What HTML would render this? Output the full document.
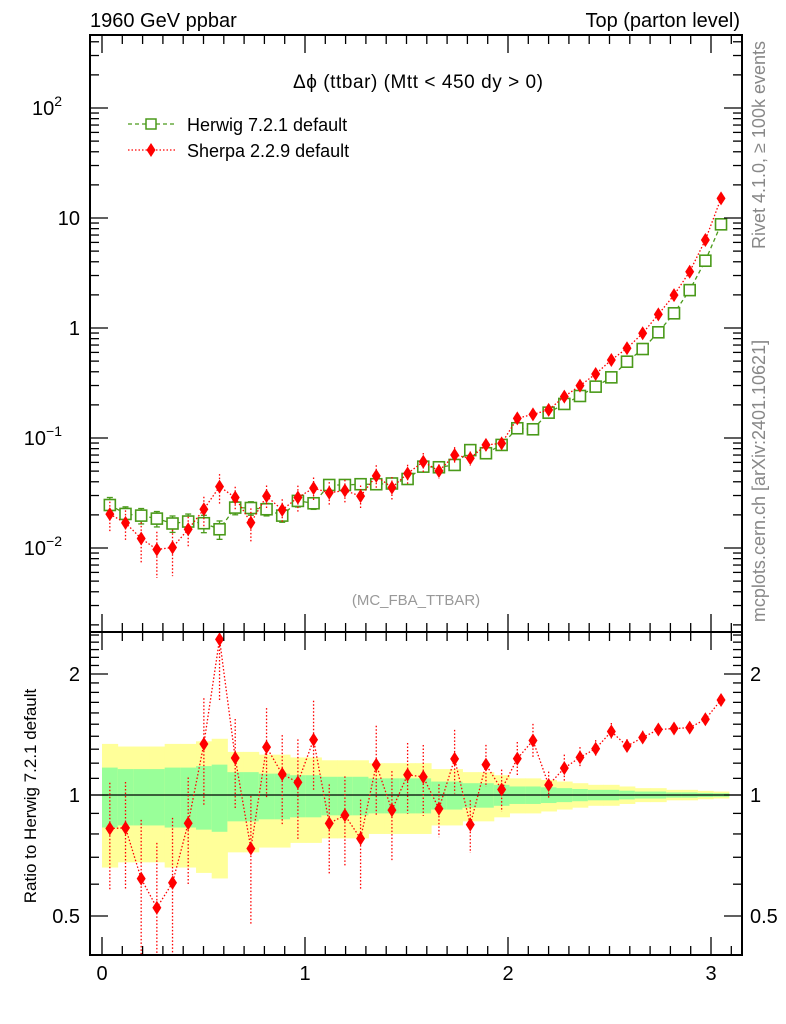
<!DOCTYPE html>
<html><head><meta charset="utf-8"><style>
body{margin:0;background:#fff;}
svg{display:block;font-family:"Liberation Sans",sans-serif;}
</style></head><body>
<svg id="c" width="786" height="1024" xmlns="http://www.w3.org/2000/svg"></svg>
<script>
const nBins = 40;
const xMax = 3.088;
const herwig = [0.0246,0.0204,0.0197,0.0185,0.0167,0.0174,0.0168,0.0148,0.0233,0.0231,0.0225,0.0197,0.0268,0.0255,0.0374,0.0374,0.038,0.038,0.0386,0.0424,0.0549,0.0542,0.0569,0.0776,0.0727,0.0865,0.1226,0.12,0.170,0.204,0.241,0.293,0.356,0.494,0.644,0.914,1.36,2.21,4.09,8.76];
const sherpa = [0.0203,0.0169,0.0122,0.0097,0.0101,0.0148,0.0225,0.0361,0.0288,0.0170,0.0296,0.0222,0.0288,0.035,0.0318,0.0333,0.0296,0.0452,0.0354,0.0476,0.0609,0.0501,0.070,0.0655,0.0865,0.0893,0.151,0.164,0.180,0.238,0.299,0.382,0.512,0.654,0.895,1.33,1.99,3.25,6.31,15.1];
const sherpaErr = [0.3,0.3,0.4,0.45,0.45,0.3,0.3,0.3,0.25,0.35,0.25,0.25,0.28,0.25,0.25,0.25,0.25,0.25,0.25,0.2,0.2,0.15,0.18,0.15,0.12,0.12,0.1,0.1,0.08,0.08,0.06,0.05,0.05,0.04,0.04,0.03,0.03,0.03,0.02,0.02];
const herwigErr = [0.17,0.16,0.16,0.16,0.17,0.17,0.18,0.19,0.14,0.14,0.13,0.13,0.12,0.12,0.11,0.11,0.11,0.1,0.1,0.1,0.1,0.08,0.08,0.07,0.07,0.06,0.05,0.05,0.045,0.04,0.035,0.03,0.03,0.025,0.02,0.02,0.015,0.015,0.012,0.01];
const xTicks = [0,1,2,3];
const mainTicks = [{v:100,t:"10",e:"2"},{v:10,t:"10"},{v:1,t:"1"},{v:0.1,t:"10",e:"−1"},{v:0.01,t:"10",e:"−2"}];
const ratioTicks = [{v:2,t:"2"},{v:1,t:"1"},{v:0.5,t:"0.5"}];

const L=90,R=742,MT=35,MB=632,RB=955;
const X=v=>102+203*v;
const Y=v=>328-110*Math.log10(v);
const RY=v=>795-402*Math.log10(v);
const cl=(y,a,b)=>Math.max(a,Math.min(b,y));
const svg=document.getElementById('c');
const NS="http://www.w3.org/2000/svg";
function el(tag,attrs,parent){const e=document.createElementNS(NS,tag);for(const k in attrs)e.setAttribute(k,attrs[k]);(parent||svg).appendChild(e);return e;}
function txt(s,attrs,parent){const e=el('text',attrs,parent);e.textContent=s;return e;}
const w=xMax/nBins;
const cx=i=>X((i+0.5)*w);

const gB=el('g',{});


for(let i=0;i<nBins;i++){
  const x0=X(i*w),x1=X((i+1)*w);
  const e=herwigErr[i];
  const y=el('rect',{x:x0,y:cl(RY(1+2*e),632,955),width:x1-x0+0.5,height:cl(RY(Math.max(1-2*e,0.01)),632,955)-cl(RY(1+2*e),632,955),fill:'#ffff99'},gB);
  
  
  const g=el('rect',{x:x0,y:RY(1+e),width:x1-x0+0.5,height:RY(1-e)-RY(1+e),fill:'#99ff99'},gB);
  
  
}
el('line',{x1:L,x2:R,y1:RY(1),y2:RY(1),stroke:'#000','stroke-width':1.3});

let hp='';
herwig.forEach((v,i)=>{hp+=(i?'L':'M')+cx(i)+','+Y(v);});
el('path',{d:hp,fill:'none',stroke:'#4a9a1a','stroke-width':1.3,'stroke-dasharray':'4,3'});
herwig.forEach((v,i)=>{
  const x=cx(i),e=herwigErr[i];
  if(e*v>0){el('line',{x1:x,x2:x,y1:Y(v*(1+e)),y2:Y(v*(1-e)),stroke:'#4a9a1a','stroke-width':1.3});
  el('line',{x1:x-3,x2:x+3,y1:Y(v*(1+e)),y2:Y(v*(1+e)),stroke:'#4a9a1a','stroke-width':1.3});
  el('line',{x1:x-3,x2:x+3,y1:Y(v*(1-e)),y2:Y(v*(1-e)),stroke:'#4a9a1a','stroke-width':1.3});}
  const r=el('rect',{x:x-5.5,y:Y(v)-5.5,width:11,height:11,fill:'#fff',stroke:'#4a9a1a','stroke-width':1.6});
  
  
});
let sp='';
sherpa.forEach((v,i)=>{sp+=(i?'L':'M')+cx(i)+','+Y(v);});
el('path',{d:sp,fill:'none',stroke:'#ff0000','stroke-width':1.3,'stroke-dasharray':'1.5,2'});
function dia(x,y,name){const p=el('path',{d:`M${x},${y-7}L${x+4.5},${y}L${x},${y+7}L${x-4.5},${y}Z`,fill:'#ff0000'});}
sherpa.forEach((v,i)=>{
  const x=cx(i),e=sherpaErr[i];
  el('line',{x1:x,x2:x,y1:Y(v*(1+e)),y2:Y(v*(1-e)),stroke:'#ff0000','stroke-width':1.3,'stroke-dasharray':'1.5,2'});
  dia(x,Y(v),'sherpa-point');
});
let rp='';
sherpa.forEach((v,i)=>{rp+=(i?'L':'M')+cx(i)+','+cl(RY(v/herwig[i]),632,955);});
el('path',{d:rp,fill:'none',stroke:'#ff0000','stroke-width':1.3,'stroke-dasharray':'1.5,2'});
sherpa.forEach((v,i)=>{
  const r=v/herwig[i],e=sherpaErr[i],x=cx(i);
  el('line',{x1:x,x2:x,y1:cl(RY(r*(1+e)),632,955),y2:cl(RY(r*(1-e)),632,955),stroke:'#ff0000','stroke-width':1.3,'stroke-dasharray':'1.5,2'});
  if(RY(r)>632&&RY(r)<955) dia(x,RY(r),'sherpa-ratio-point');
});

el('rect',{x:L,y:MT,width:R-L,height:MB-MT,fill:'none',stroke:'#000','stroke-width':2});
el('rect',{x:L,y:MB,width:R-L,height:RB-MB,fill:'none',stroke:'#000','stroke-width':2});
for(let k=0;k<=31;k++){
  const v=k/10,x=X(v),maj=k%10==0,len=maj?18:9;
  [[MT,1],[MB,-1],[MB,1],[RB,-1]].forEach(([y,d])=>el('line',{x1:x,x2:x,y1:y,y2:y+d*len,stroke:'#000','stroke-width':1.3}));
}
xTicks.forEach(v=>{const t=txt(String(v),{x:X(v),y:980,'font-size':20,'text-anchor':'middle'});});
for(let d=-3;d<=2;d++){for(let m=1;m<10;m++){const v=m*Math.pow(10,d),y=Y(v);if(y<MT||y>MB)continue;const len=m==1?18:9;
 el('line',{x1:L,x2:L+len,y1:y,y2:y,stroke:'#000','stroke-width':1.3});el('line',{x1:R,x2:R-len,y1:y,y2:y,stroke:'#000','stroke-width':1.3});}}
mainTicks.forEach(o=>{const t=txt(o.t,{x:o.e?66:80,y:Y(o.v)+7,'font-size':20,'text-anchor':'end'});if(o.e){t.setAttribute('x',62);const s=el('tspan',{dy:-9,'font-size':14},t);s.textContent=o.e;}
 });
[0.4,0.5,0.6,0.7,0.8,0.9,1,1.1,1.2,1.3,1.4,1.5,1.6,1.7,1.8,1.9,2,2.1,2.2,2.3,2.4,2.5].forEach(v=>{const y=RY(v);if(y<=MB||y>=RB)return;const len=[0.5,1,2].includes(v)?18:9;
 el('line',{x1:L,x2:L+len,y1:y,y2:y,stroke:'#000','stroke-width':1.3});el('line',{x1:R,x2:R-len,y1:y,y2:y,stroke:'#000','stroke-width':1.3});});
ratioTicks.forEach(o=>{const a=txt(o.t,{x:80,y:RY(o.v)+7,'font-size':20,'text-anchor':'end'});
 const b=txt(o.t,{x:750,y:RY(o.v)+7,'font-size':20});});
</script>
<div style="position:absolute;left:0;top:0;width:786px;height:1024px;pointer-events:none;">
<svg width="786" height="1024" xmlns="http://www.w3.org/2000/svg" style="font-family:'Liberation Sans',sans-serif;">
<text x="90" y="27" font-size="20">1960 GeV ppbar</text>
<text x="740" y="27" font-size="20" text-anchor="end">Top (parton level)</text>
<text x="418" y="88" font-size="19" text-anchor="middle" textLength="250">Δϕ (ttbar) (Mtt &lt; 450 dy &gt; 0)</text>
<g>
<line x1="128" x2="175" y1="124" y2="124" stroke="#4a9a1a" stroke-width="1.3" stroke-dasharray="4,3"/>
<rect x="146" y="119" width="10" height="10" fill="#fff" stroke="#4a9a1a" stroke-width="1.5"/>
<text x="187" y="131" font-size="18">Herwig 7.2.1 default</text>
<line x1="128" x2="175" y1="150" y2="150" stroke="#ff0000" stroke-width="1.3" stroke-dasharray="1.5,2"/>
<path d="M151,143L155.5,150L151,157L146.5,150Z" fill="#ff0000"/>
<text x="187" y="157" font-size="18">Sherpa 2.2.9 default</text>
</g>
<text x="416" y="605" font-size="15" fill="#999" text-anchor="middle">(MC_FBA_TTBAR)</text>
<text transform="translate(765,145) rotate(-90)" font-size="18" fill="#888" text-anchor="middle">Rivet 4.1.0, ≥ 100k events</text>
<text transform="translate(765,481) rotate(-90)" font-size="18" fill="#888" text-anchor="middle">mcplots.cern.ch [arXiv:2401.10621]</text>
<text transform="translate(36,796) rotate(-90)" font-size="17" text-anchor="middle">Ratio to Herwig 7.2.1 default</text>
</svg></div>
</body></html>
